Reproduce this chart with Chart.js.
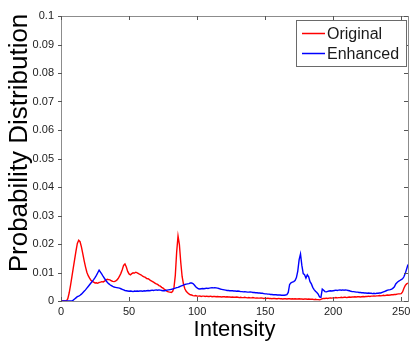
<!DOCTYPE html>
<html>
<head>
<meta charset="utf-8">
<script src="https://cdn.jsdelivr.net/npm/chart.js@4.4.1/dist/chart.umd.min.js"></script>
<style>
  body { margin: 0; background: #fff; }
  canvas { display: block; }
</style>
</head>
<body>
<canvas id="HistChart" width="410" height="343"></canvas>
<script>
// grey levels 0..255
var intensity = Array.from({ length: 256 }, function (_, i) { return i; });
var xTicks = [0, 50, 100, 150, 200, 250];
var yTicks = [0, 0.01, 0.02, 0.03, 0.04, 0.05, 0.06, 0.07, 0.08, 0.09, 0.1];
var seriesNames = ['Original', 'Enhanced'];

var original = [
    0, 0, 0, 0, 0, 0.0008, 0.0028, 0.0055, 0.0085, 0.0115,
    0.0145, 0.0175, 0.0202, 0.0213, 0.0208, 0.019, 0.0166, 0.0142, 0.012, 0.0101,
    0.0089, 0.008, 0.0073, 0.0069, 0.0066, 0.0063, 0.0064, 0.0062, 0.0065, 0.0066,
    0.0068, 0.0067, 0.007, 0.0073, 0.0076, 0.0075, 0.0074, 0.0071, 0.0069, 0.0068,
    0.007, 0.0073, 0.0079, 0.0087, 0.0097, 0.011, 0.0125, 0.013, 0.0119, 0.0104,
    0.0095, 0.0092, 0.0096, 0.0099, 0.0098, 0.0101, 0.0099, 0.0096, 0.0093, 0.0091,
    0.0087, 0.0085, 0.0083, 0.0079, 0.0078, 0.0075, 0.0071, 0.0069, 0.0066, 0.0063,
    0.006, 0.0058, 0.0054, 0.0052, 0.0048, 0.0045, 0.0041, 0.0038, 0.0034, 0.0032,
    0.0031, 0.003, 0.0033, 0.0046, 0.009, 0.0172, 0.0228, 0.0198, 0.0136, 0.0086,
    0.0059, 0.0043, 0.0034, 0.0029, 0.0025, 0.0022, 0.0021, 0.0019, 0.0018, 0.0019,
    0.0017,
    0.0017, 0.0018, 0.0016, 0.0017, 0.0017, 0.0016, 0.0017, 0.0016, 0.0016, 0.0017,
    0.0015, 0.0016, 0.0016, 0.0015, 0.0016, 0.0015, 0.0015, 0.0014, 0.0015, 0.0015,
    0.0014, 0.0015, 0.0014, 0.0014, 0.0013, 0.0014, 0.0013, 0.0013, 0.0014, 0.0013,
    0.0012, 0.0013, 0.0012, 0.0012, 0.0013, 0.0012, 0.0011, 0.0012, 0.0011, 0.0011,
    0.0012, 0.0011, 0.001, 0.0011, 0.001, 0.001, 0.0011, 0.001, 0.0009, 0.001,
    0.0009, 0.001, 0.0009, 0.0009, 0.0008, 0.0009, 0.0009, 0.0008, 0.0008, 0.0009,
    0.0008, 0.0008, 0.0007, 0.0008, 0.0008, 0.0007, 0.0008, 0.0008, 0.0007, 0.0008,
    0.0007, 0.0008, 0.0007, 0.0007, 0.0008, 0.0007, 0.0007, 0.0006, 0.0007, 0.0007,
    0.0006, 0.0007, 0.0006, 0.0006, 0.0006, 0.0005, 0.0006, 0.0005, 0.0005, 0.0004,
    0.0006, 0.0008, 0.0009, 0.0009, 0.001, 0.0009, 0.001, 0.0011, 0.001, 0.0011,
    0.0011, 0.0012, 0.0011, 0.0012, 0.0012, 0.0013, 0.0012, 0.0013, 0.0013, 0.0012,
    0.0013, 0.0014, 0.0013, 0.0014, 0.0014, 0.0015, 0.0014, 0.0015, 0.0015, 0.0014,
    0.0015, 0.0016, 0.0015, 0.0016, 0.0016, 0.0017, 0.0016, 0.0017, 0.0017, 0.0018,
    0.0017, 0.0018, 0.0018, 0.0019, 0.0018, 0.0019, 0.002, 0.0019, 0.002, 0.0021,
    0.002, 0.0021, 0.0022, 0.0022, 0.0023,
    0.0023, 0.0024, 0.0025, 0.0025, 0.0026, 0.0032, 0.0045, 0.0055, 0.006, 0.0063
];

var enhanced = [
    0, 0, 0, 0, 0, 0, 0, 0, 0, 0.0003,
    0.0007, 0.0011, 0.0015, 0.0017, 0.002, 0.0024, 0.0029, 0.0034, 0.0039, 0.0045,
    0.0051, 0.0057, 0.0063, 0.0069, 0.0075, 0.0082, 0.009, 0.0099, 0.0108, 0.0101,
    0.0094, 0.0086, 0.0079, 0.0072, 0.0066, 0.0061, 0.0057, 0.0054, 0.0051, 0.0049,
    0.0048, 0.0047, 0.0046, 0.0045, 0.0043, 0.0041, 0.0039, 0.0037, 0.0036, 0.0035,
    0.0034,
    0.0035, 0.0034, 0.0033, 0.0035, 0.0034, 0.0035, 0.0034, 0.0035, 0.0035, 0.0034,
    0.0036, 0.0035, 0.0036, 0.0037, 0.0036, 0.0037, 0.0038, 0.0037, 0.0038, 0.0039,
    0.0038, 0.0039, 0.0038, 0.0037, 0.0036, 0.0036, 0.0037, 0.0038, 0.0039, 0.004,
    0.0041, 0.0042,
    0.0044, 0.0045, 0.0047, 0.0048, 0.005, 0.0052, 0.0054, 0.0056, 0.0058, 0.0059,
    0.006, 0.0061, 0.0063, 0.0063,
    0.0061, 0.0056, 0.005, 0.0046, 0.0043, 0.0042, 0.0043, 0.0044, 0.0043, 0.0044,
    0.0045, 0.0044, 0.0045, 0.0046, 0.0047, 0.0046, 0.0047, 0.0046, 0.0045, 0.0044,
    0.0042, 0.0041, 0.004, 0.0039,
    0.0038, 0.0037, 0.0037, 0.0036, 0.0036, 0.0036, 0.0035, 0.0035, 0.0034, 0.0035,
    0.0034, 0.0033, 0.0033, 0.0032, 0.0033, 0.0032, 0.0031, 0.0031, 0.0032, 0.0031,
    0.003, 0.003, 0.0029, 0.0029, 0.0028, 0.0028, 0.0027, 0.0027, 0.0026, 0.0025,
    0.0025, 0.0024, 0.0024, 0.0023, 0.0023, 0.0022, 0.0022, 0.0022, 0.0021, 0.0021,
    0.0021, 0.002, 0.002, 0.002, 0.0021, 0.0022, 0.003,
    0.0058, 0.0064, 0.0066, 0.0068, 0.0072, 0.0082, 0.0105, 0.0145, 0.0165, 0.0125,
    0.0096, 0.0092, 0.008, 0.0092, 0.0085, 0.0068, 0.006, 0.0048, 0.004, 0.0034,
    0.003, 0.0024, 0.0014, 0.0013, 0.0042,
    0.0038, 0.0033, 0.0032, 0.0034, 0.0035, 0.0036, 0.0035, 0.0036, 0.0037, 0.0038,
    0.0037, 0.0038, 0.0039, 0.0038, 0.0039, 0.0038, 0.0039, 0.0038, 0.0037, 0.0036,
    0.0034, 0.0033, 0.0033, 0.0032, 0.0031, 0.0031, 0.003, 0.003, 0.0029, 0.0029,
    0.0028, 0.0028, 0.0027, 0.0028, 0.0027, 0.0027, 0.0026, 0.0027, 0.0026, 0.0027,
    0.0027, 0.0028, 0.0028, 0.003, 0.0032, 0.0034, 0.0036, 0.0038, 0.0039,
    0.004, 0.0042, 0.0045, 0.005, 0.006, 0.0065, 0.0069, 0.0072, 0.0075, 0.0078,
    0.0085, 0.0097, 0.0112, 0.0128
];

var FONT = "'Liberation Sans', Arial, sans-serif";

// frame, inward ticks, legend and axis titles in the matlab look
var matlabBox = {
    id: 'matlabBox',
    afterDraw: function (chart) {
        var ctx = chart.ctx;
        var a = chart.chartArea;
        var xs = chart.scales.x, ys = chart.scales.y;
        ctx.save();
        ctx.strokeStyle = '#8c8c8c';
        ctx.lineWidth = 1;
        ctx.strokeRect(Math.round(a.left) + 0.5, Math.round(a.top) + 0.5,
            Math.round(a.right - a.left), Math.round(a.bottom - a.top));

        ctx.strokeStyle = '#555';
        ctx.beginPath();
        xTicks.forEach(function (v) {
            var px = Math.round(xs.getPixelForValue(v)) + 0.5;
            ctx.moveTo(px, a.bottom); ctx.lineTo(px, a.bottom - 4);
            ctx.moveTo(px, a.top); ctx.lineTo(px, a.top + 4);
        });
        yTicks.forEach(function (v) {
            var py = Math.round(ys.getPixelForValue(v)) + 0.5;
            ctx.moveTo(a.left - 3, py); ctx.lineTo(a.left + 1, py);
            ctx.moveTo(a.right, py); ctx.lineTo(a.right - 4, py);
        });
        ctx.stroke();

        // legend box
        var bx = 296.5, by = 20.5, bw = 110, bh = 46;
        ctx.fillStyle = '#fff';
        ctx.fillRect(bx, by, bw, bh);
        ctx.strokeStyle = '#6a6a6a';
        ctx.strokeRect(bx, by, bw, bh);
        ctx.font = '16px ' + FONT;
        ctx.textBaseline = 'middle';
        ctx.textAlign = 'left';
        chart.data.datasets.forEach(function (ds, i) {
            var ly = 33.5 + i * 20;
            ctx.strokeStyle = ds.borderColor;
            ctx.lineWidth = 1.5;
            ctx.beginPath();
            ctx.moveTo(302, ly); ctx.lineTo(325, ly);
            ctx.stroke();
            ctx.fillStyle = '#1a1a1a';
            ctx.fillText(ds.label, 327, ly + 1);
        });

        // axis titles
        ctx.fillStyle = '#000';
        ctx.textAlign = 'center';
        ctx.textBaseline = 'alphabetic';
        ctx.font = '22px ' + FONT;
        ctx.fillText('Intensity', (a.left + a.right) / 2, 336);
        ctx.translate(27, 143);
        ctx.rotate(-Math.PI / 2);
        ctx.font = '26px ' + FONT;
        ctx.fillText('Probability Distribution', 0, 0);
        ctx.restore();
    }
};

var HistCtx = document.getElementById('HistChart').getContext('2d');
new Chart(HistCtx, {
    type: 'line',
    data: {
        labels: intensity,
        datasets: [
            {
                label: seriesNames[0],
                data: original,
                borderColor: '#ff0000',
                borderWidth: 1.4,
                pointRadius: 0,
                tension: 0,
                order: 1
            },
            {
                label: seriesNames[1],
                data: enhanced,
                borderColor: '#0000ff',
                borderWidth: 1.4,
                pointRadius: 0,
                tension: 0,
                order: 0
            }
        ]
    },
    options: {
        responsive: false,
        animation: false,
        layout: { padding: { top: 16, right: 2, left: 0, bottom: 0 } },
        plugins: {
            legend: { display: false },
            tooltip: { enabled: false }
        },
        scales: {
            x: {
                type: 'linear',
                min: 0,
                max: 255,
                grid: { display: false, drawTicks: false },
                border: { display: false },
                afterBuildTicks: function (scale) {
                    scale.ticks = xTicks.map(function (v) { return { value: v }; });
                },
                afterFit: function (scale) {
                    scale.height = 42;
                    scale.paddingLeft = 0;
                    scale.paddingRight = 0;
                },
                ticks: {
                    maxRotation: 0,
                    autoSkip: false,
                    padding: 4,
                    color: '#222',
                    font: { family: FONT, size: 11 }
                }
            },
            y: {
                min: 0,
                max: 0.1,
                grid: { display: false, drawTicks: false },
                border: { display: false },
                afterBuildTicks: function (scale) {
                    scale.ticks = yTicks.map(function (v) { return { value: v }; });
                },
                afterFit: function (scale) {
                    scale.width = 61;
                    scale.paddingTop = 0;
                    scale.paddingBottom = 0;
                },
                ticks: {
                    padding: 7,
                    color: '#222',
                    font: { family: FONT, size: 11 },
                    callback: function (v) { return String(v); }
                }
            }
        }
    },
    plugins: [matlabBox]
});
</script>
</body>
</html>
